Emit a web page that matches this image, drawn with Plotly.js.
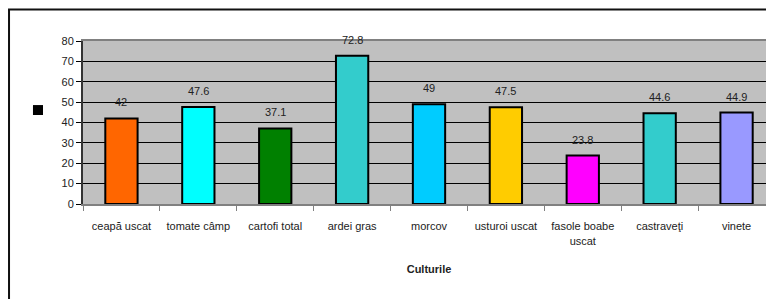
<!DOCTYPE html>
<html>
<head>
<meta charset="utf-8">
<script src="https://cdn.plot.ly/plotly-3.0.1.min.js"></script>
<style>
  html, body { margin: 0; padding: 0; overflow: hidden; background: #fff; }
  #chart { width: 800px; height: 330px; }
</style>
</head>
<body>
<div id="chart"></div>
<script>
// Data
var categories = ["ceapă uscat", "tomate câmp", "cartofi total", "ardei gras", "morcov", "usturoi uscat", "fasole boabe<br>uscat", "castraveţi", "vinete"];
var values = [42, 47.6, 37.1, 72.8, 49, 47.5, 23.8, 44.6, 44.9];
var valueLabels = ["42", "47.6", "37.1", "72.8", "49", "47.5", "23.8", "44.6", "44.9"];
var barColors = ["#FF6600", "#00FFFF", "#008000", "#33CCCC", "#00CCFF", "#FFCC00", "#FF00FF", "#33CCCC", "#9999FF"];
var yTicks = [0, 10, 20, 30, 40, 50, 60, 70, 80];

var trace = {
  type: "bar",
  x: categories,
  y: values,
  marker: { color: barColors, line: { color: "#000", width: 2 } },
  hoverinfo: "x+y",
  showlegend: false
};

var annotations = categories.map(function (c, i) {
  return {
    x: c, y: values[i], xref: "x", yref: "y",
    text: valueLabels[i], showarrow: false, yshift: 16,
    font: { family: "Liberation Sans, Arial, sans-serif", size: 11, color: "#222" }
  };
});

var layout = {
  width: 800, height: 330,
  margin: { l: 83, r: 25, t: 41, b: 126 },
  paper_bgcolor: "#ffffff",
  plot_bgcolor: "#C0C0C0",
  bargap: 0.58,
  font: { family: "Liberation Sans, Arial, sans-serif", size: 11, color: "#222" },
  xaxis: {
    type: "category",
    showline: true, linecolor: "#808080", linewidth: 2, mirror: true,
    ticks: "outside", tickson: "boundaries", ticklen: 5, tickcolor: "#808080", tickwidth: 1,
    showgrid: false,
    tickfont: { size: 11, color: "#222" },
    ticklabelstandoff: 11,
    title: { text: "<b>Culturile</b>", font: { size: 11, color: "#222" }, standoff: 20 },
    fixedrange: true
  },
  yaxis: {
    range: [0, 80],
    tickvals: yTicks,
    ticktext: yTicks.map(String),
    showline: true, linecolor: "#333", linewidth: 2,
    ticks: "outside", ticklen: 5, tickcolor: "#000",
    showgrid: true, gridcolor: "#000", gridwidth: 1,
    zeroline: false,
    tickfont: { size: 11, color: "#222" },
    fixedrange: true
  },
  annotations: annotations,
  shapes: [
    { type: "rect", xref: "paper", yref: "paper",
      x0: -0.1069, x1: 1.5, y0: -1, y1: 1.193,
      line: { color: "#111", width: 2 }, fillcolor: "rgba(0,0,0,0)", layer: "below" },
    { type: "rect", xref: "paper", yref: "paper",
      x0: -0.0723, x1: -0.0578, y0: 0.546, y1: 0.607,
      line: { width: 0 }, fillcolor: "#000" }
  ]
};

Plotly.newPlot("chart", [trace], layout, { displayModeBar: false, staticPlot: true });
</script>
</body>
</html>
